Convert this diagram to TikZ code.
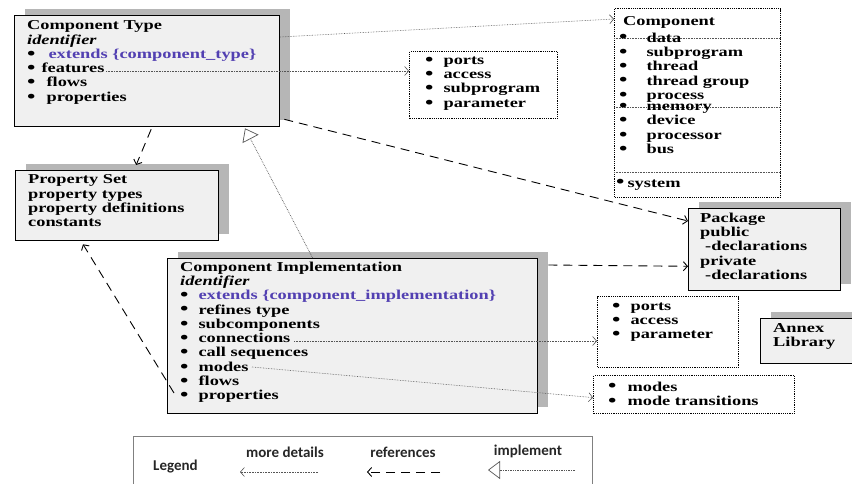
\documentclass[tikz,border=0pt]{standalone}
\usepackage{fontspec}
\setmainfont{Liberation Serif}[FakeStretch=1.35]
\newfontfamily\legendfont{Carlito}
\usetikzlibrary{arrows.meta}
\usetikzlibrary{calc}
\usetikzlibrary{shadows}

\definecolor{boxgray}{RGB}{240,240,240}
\definecolor{shadegray}{RGB}{182,182,182}
\definecolor{extblue}{RGB}{82,64,178}
\definecolor{linegray}{RGB}{85,85,85}

\newcommand{\boxfont}{\bfseries\fontsize{13.6}{14.3}\selectfont\lineskiplimit=-20pt}
\newcommand{\bul}[1][11.6pt]{\smash{\raisebox{-0.8pt}{\scalebox{1.3}{\textbullet}}}\hspace{#1}}

\tikzset{
  mainbox/.style={draw=black, line width=1.3pt, fill=boxgray, anchor=north west, inner sep=0pt,
    drop shadow={shadow xshift=10pt, shadow yshift=6.5pt, fill=shadegray, opacity=1}},
  dotbox/.style={draw=black, densely dotted, line width=1.2pt, anchor=north west, inner sep=0pt},
  boxtext/.style={anchor=north west, yshift=10.5pt, inner sep=0pt, align=left, font=\boxfont,
    execute at begin node={\rule{0pt}{10.5pt}}},
  lgdtext/.style={anchor=base, inner sep=0pt, font=\legendfont\bfseries\fontsize{15}{18}\selectfont, text=black!85},
  detail/.style={draw=linegray, densely dotted, line width=0.6pt, -{Straight Barb[length=4pt,width=9pt]}},
  ref/.style={draw=black, dash pattern=on 9pt off 6pt, line width=0.9pt, -{Straight Barb[length=4pt,width=9pt]}},
  impl/.style={draw=linegray, densely dotted, line width=0.7pt, -{Triangle[open,length=12pt,width=18pt,fill=white]}}
}

\begin{document}
\begin{tikzpicture}[x=1pt,y=-1pt]
	\path[use as bounding box, clip] (0,0) rectangle (852,484);

	% boxes
	\node[mainbox, minimum width=265pt, minimum height=111pt] (ctype) at (14,15) {};
	\node[mainbox, minimum width=203pt, minimum height=70pt] (propset) at (15,170) {};
	\node[mainbox, minimum width=370pt, minimum height=155pt] (cimpl) at (167,258) {};
	\node[mainbox, minimum width=152pt, minimum height=82pt] (pkg) at (688,208) {};
	\node[mainbox, minimum width=110pt, minimum height=45pt] (annex) at (760,318) {};

	\node[dotbox, minimum width=166pt, minimum height=189pt] (comp) at (614,8) {};
	\node[dotbox, minimum width=148pt, minimum height=67pt] (ports1) at (409,51) {};
	\node[dotbox, minimum width=141pt, minimum height=71pt] (ports2) at (597,296) {};
	\node[dotbox, minimum width=201pt, minimum height=38pt] (mdbox) at (593,375) {};

	% separators in the component box
	\foreach \y in {38, 107, 172} {
	 \draw[linegray, densely dotted, line width=0.6pt] (comp.west |- 0,\y) -- (comp.east |- 0,\y);
	}

	% texts
	\node[boxtext] (ctypetxt) at (27,31) {Component Type\\ \textit{identifier}\\
	  \bul[13pt]{\color{extblue}extends \{component\_type\}}\\ \bul[6pt]features\\
	  \bul[11pt]flows\\ \bul[11pt]properties};
	\node[boxtext] (propsettxt) at (28,185) {Property Set\\ property types\\ property definitions\\ constants};
	\node[boxtext] (cimpltxt) at (180,272) {Component Implementation\\ \textit{identifier}\\
	  \bul[10pt]{\color{extblue}extends \{component\_implementation\}}\\ \bul[10pt]refines type\\
	  \bul[10pt]subcomponents\\ \bul[10pt]connections\\ \bul[10pt]call sequences\\ \bul[10pt]modes\\ \bul[10pt]flows\\ \bul[10pt]properties};
	\node[boxtext] (pkgtxt) at (700,223) {Package\\ public\\ \hspace{5pt}-declarations\\ private\\ \hspace{5pt}-declarations};
	\node[boxtext] (annextxt) at (773,334) {Annex\\ Library};

	\node[boxtext] (comptitle) at (623,25) {Component};
	\node[boxtext] (complistA) at (619,43) {\bul[19pt]data\\ \bul[19pt]subprogram\\ \bul[19pt]thread\\ \bul[19pt]thread group\\ \bul[19pt]process};
	\node[boxtext] (complistB) at (619,114.5) {\bul[19pt]memory\\ \bul[19pt]device\\ \bul[19pt]processor\\ \bul[19pt]bus};
	\node[boxtext] (complistC) at (616,187) {\bul[3pt]system};
	\node[boxtext] (ports1txt) at (425,67) {\bul[10pt]ports\\ \bul[10pt]access\\ \bul[10pt]subprogram\\ \bul[10pt]parameter};
	\node[boxtext] (ports2txt) at (612,313) {\bul[10pt]ports\\ \bul[10pt]access\\ \bul[10pt]parameter};
	\node[boxtext] (mdboxtxt) at (608,392) {\bul[11pt]modes\\ \bul[11pt]mode transitions};

	% more details
	\coordinate (feat) at (106,71);
	\coordinate (conn) at (294,341);
	\coordinate (mode) at (252,367);
	\draw[detail] ($(ctype.north east)+(0,22)$) -- (comp.west |- 0,19);
	\draw[detail] (feat) -- (feat -| ports1.west);
	\draw[detail] (conn) -- (conn -| ports2.west);
	\draw[detail] (mode) -- ($(mdbox.west)+(0,3)$);

	% references
	\coordinate (prop) at (174,393);
	\draw[ref] ($(ctype.south east)+(4,-8)$) -- ($(pkg.north west)+(0,13)$);
	\draw[ref] ($(ctype.south)+(4,2)$) -- ($(propset.north)+(19,-5)$);
	\draw[ref] (prop) -- ($(propset.south west)+(68,3)$);
	\draw[ref] ($(cimpl.north east)+(10,7)$) -- ($(pkg.south west)+(0,-25)$);

	% implement
	\draw[impl] ($(cimpl.north)+(-40,0)$) -- ($(ctype.south west)+(231,1)$);

	% legend
	\node[draw=gray, line width=0.6pt, anchor=north west, minimum width=459pt, minimum height=70pt] (legendbox) at (133,436) {};
	\node[lgdtext, anchor=base west] (lgd) at (153,470) {Legend};
	\node[lgdtext] (lgdmore) at (285,457) {more details};
	\node[lgdtext] (lgdref) at (403,457) {references};
	\node[lgdtext] (lgdimpl) at (528,455) {implement};
	\coordinate (moreA) at (318,472);
	\coordinate (moreB) at (240,472);
	\coordinate (refA) at (440,472);
	\coordinate (refB) at (367,472);
	\coordinate (implA) at (575,470);
	\coordinate (implB) at (488,470);
	\draw[detail] (moreA) -- (moreB);
	\draw[ref] (refA) -- (refB);
	\draw[impl] (implA) -- (implB);
\end{tikzpicture}
\end{document}
